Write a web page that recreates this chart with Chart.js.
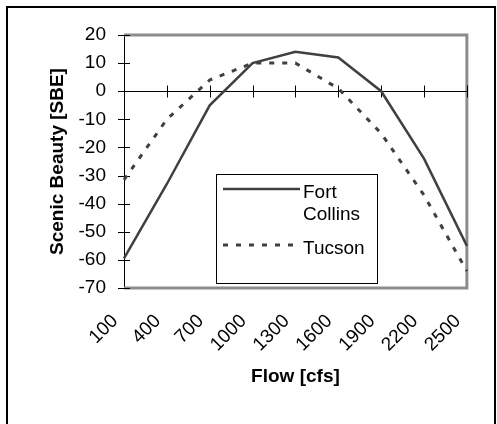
<!DOCTYPE html>
<html><head><meta charset="utf-8">
<script src="https://cdn.jsdelivr.net/npm/chart.js@4"></script>
<style>
html,body{margin:0;padding:0;background:#fff;overflow:hidden}
#wrap{position:relative;width:497px;height:424px;background:#fff}
#frame{position:absolute;left:6px;top:6px;width:486px;height:430px;border:2px solid #000;border-bottom:none;pointer-events:none}
canvas{position:absolute;left:0;top:0}
</style></head><body>
<div id="wrap"><canvas id="c" width="497" height="424"></canvas><div id="frame"></div></div>
<script>
const categories = ['100','400','700','1000','1300','1600','1900','2200','2500'];
const fortCollins = [-59.5, -33, -5, 10, 14, 12, 0, -24, -55];
const tucson = [-31.5, -10, 4, 10, 10, 1, -15, -37, -64];
const seriesNames = ['Fort Collins', 'Tucson'];
const yMin = -70, yMax = 20, yStep = 10;
const xTitle = 'Flow [cfs]';
const yTitle = 'Scenic Beauty [SBE]';

const FONT = "'Liberation Sans', Arial, sans-serif";
Chart.defaults.font.family = FONT;
Chart.defaults.color = '#000';

const excelAxes = {
  id: 'excelAxes',
  beforeDatasetsDraw(chart) {
    const {ctx, chartArea: ca, scales: {x, y}} = chart;
    ctx.save();
    ctx.strokeStyle = '#8c8c8c';
    ctx.lineWidth = 3;
    ctx.beginPath();
    ctx.moveTo(ca.left, ca.top);
    ctx.lineTo(ca.right, ca.top);
    ctx.lineTo(ca.right, ca.bottom);
    ctx.lineTo(ca.left, ca.bottom);
    ctx.stroke();
    const y0 = Math.round(y.getPixelForValue(0)) + 0.5;
    ctx.strokeStyle = '#000';
    ctx.lineWidth = 1;
    ctx.beginPath();
    ctx.moveTo(ca.left, y0);
    ctx.lineTo(ca.right, y0);
    x.ticks.forEach((t, i) => {
      const px = Math.round(x.getPixelForTick(i)) + 0.5;
      ctx.moveTo(px, y0 - 6);
      ctx.lineTo(px, y0 + 6);
    });
    const lx = Math.round(ca.left);
    y.ticks.forEach((t, i) => {
      const py = Math.round(y.getPixelForTick(i)) + 0.5;
      ctx.moveTo(lx - 6, py);
      ctx.lineTo(lx + 6, py);
    });
    ctx.stroke();
    ctx.restore();
  }
};

function wrapText(ctx, text, maxW) {
  const words = text.split(' ');
  const lines = [];
  let cur = '';
  words.forEach(w => {
    const t = cur ? cur + ' ' + w : w;
    if (cur && ctx.measureText(t).width > maxW) { lines.push(cur); cur = w; }
    else cur = t;
  });
  if (cur) lines.push(cur);
  return lines;
}

const boxLegend = {
  id: 'boxLegend',
  afterDatasetsDraw(chart) {
    const {ctx, chartArea: ca} = chart;
    const bx = ca.left + 92, by = ca.top + 139, bw = 161, bh = 109;
    ctx.save();
    ctx.fillStyle = '#fff';
    ctx.fillRect(bx, by, bw, bh);
    ctx.strokeStyle = '#000';
    ctx.lineWidth = 1;
    ctx.strokeRect(bx + 0.5, by + 0.5, bw, bh);
    ctx.font = '19px ' + FONT;
    ctx.fillStyle = '#000';
    ctx.textBaseline = 'alphabetic';
    const lineH = 22;
    let yy = by + 15;
    chart.data.datasets.forEach(ds => {
      const lines = wrapText(ctx, ds.label, bw - 90);
      ctx.save();
      ctx.strokeStyle = ds.borderColor;
      ctx.lineWidth = ds.borderWidth;
      ctx.setLineDash(ds.borderDash || []);
      ctx.beginPath();
      ctx.moveTo(bx + 7, yy);
      ctx.lineTo(bx + 84, yy);
      ctx.stroke();
      ctx.restore();
      lines.forEach((ln, k) => {
        ctx.fillText(ln, bx + 87, yy + 9 + k * lineH);
      });
      yy += 56;
    });
    ctx.restore();
  }
};

new Chart(document.getElementById('c'), {
  type: 'line',
  data: {
    labels: categories,
    datasets: [
      {label: seriesNames[0], data: fortCollins, borderColor: '#404040', borderWidth: 2.5,
       pointRadius: 0, tension: 0, clip: false},
      {label: seriesNames[1], data: tucson, borderColor: '#404040', borderWidth: 3,
       borderDash: [5, 8], pointRadius: 0, tension: 0, clip: false}
    ]
  },
  options: {
    responsive: false,
    animation: false,
    layout: {padding: {top: 35, right: 30, left: 0, bottom: 0}},
    plugins: {legend: {display: false}, tooltip: {enabled: false}},
    scales: {
      x: {
        offset: false,
        grid: {display: false},
        border: {display: false},
        ticks: {autoSkip: false, minRotation: 45, maxRotation: 45, padding: 14, labelOffset: -9,
                font: {size: 19}, color: '#000'},
        title: {display: true, text: xTitle, font: {size: 19, weight: 'bold'}, color: '#000',
                padding: {top: 0, bottom: 36}},
        afterFit(s) { s.height = 136; }
      },
      y: {
        min: yMin, max: yMax,
        grid: {display: false},
        border: {display: true, color: '#000', width: 1},
        ticks: {stepSize: yStep, padding: 10, font: {size: 19}, color: '#000'},
        title: {display: true, text: yTitle, font: {size: 19, weight: 'bold'}, color: '#000',
                padding: {top: 46, bottom: 0}},
        afterFit(s) { s.width = 124; }
      }
    }
  },
  plugins: [excelAxes, boxLegend]
});
</script>
</body></html>
